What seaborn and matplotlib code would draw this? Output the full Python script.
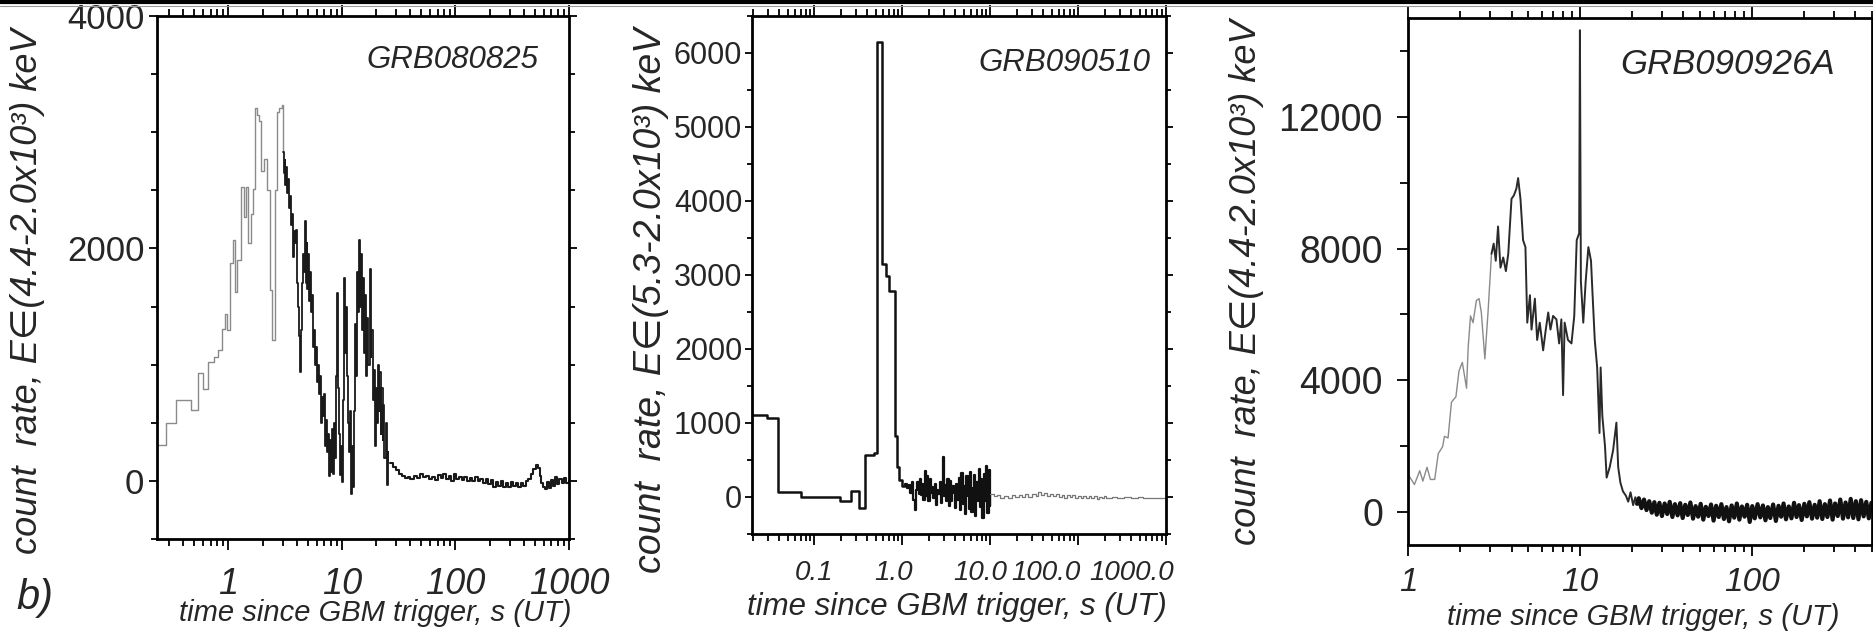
import numpy as np
import pandas as pd
import seaborn as sns
import matplotlib.pyplot as plt
from matplotlib.lines import Line2D
from matplotlib.transforms import ScaledTranslation
from matplotlib.ticker import LogLocator, NullFormatter, MultipleLocator

# ---- GRB080825 : (bin start, s ; count rate) step data
grb1_rise = [(0.235, 310), (0.28, 500), (0.345, 700), (0.47, 610), (0.54, 930), (0.60, 790),
             (0.665, 1025), (0.74, 1070), (0.815, 1130), (0.87, 1310), (0.93, 1440), (0.98, 1300),
             (1.035, 1875), (1.105, 2070), (1.145, 1625), (1.19, 1900), (1.29, 2525), (1.36, 2270),
             (1.435, 2525), (1.50, 2045), (1.58, 2300), (1.64, 2510), (1.72, 3210), (1.78, 3150),
             (1.85, 3100), (1.93, 2670), (2.04, 2770), (2.19, 2500), (2.31, 1645), (2.42, 1215),
             (2.55, 2500), (2.68, 3170), (2.80, 3210), (2.97, 3230)]
grb1_burst = [(3.00, 2830), (3.06, 2650), (3.12, 2760), (3.18, 2550), (3.24, 2700), (3.30, 2480),
              (3.36, 2600), (3.43, 2350), (3.50, 2450), (3.57, 2200), (3.64, 2300), (3.72, 1925),
              (3.80, 2150), (3.88, 2050), (3.96, 2160), (4.04, 1700), (4.12, 1500), (4.20, 1250),
              (4.28, 935), (4.36, 1300), (4.45, 1700), (4.53, 1950), (4.62, 1800), (4.70, 2240),
              (4.79, 1700), (4.88, 2050), (4.97, 1650), (5.06, 1950), (5.16, 1550), (5.26, 1800),
              (5.36, 1450), (5.47, 1600), (5.58, 1150), (5.69, 1300), (5.81, 1000), (5.93, 1150),
              (6.05, 850), (6.17, 1000), (6.30, 750), (6.43, 900), (6.56, 500), (6.69, 720),
              (6.83, 560), (6.97, 750), (7.11, 300), (7.26, 520), (7.40, 250), (7.55, 400),
              (7.70, 45), (7.86, 350), (8.02, 80), (8.18, 450), (8.35, 60), (8.52, 500),
              (8.70, 200), (8.88, 900), (9.06, 1615), (9.25, 800), (9.44, 400), (9.63, 50),
              (9.83, 300), (10.0, -10), (10.2, 700), (10.4, 1750), (10.6, 1100), (10.8, 1500),
              (11.0, 900), (11.3, 500), (11.5, 250), (11.8, 600), (12.0, -110), (12.3, 300),
              (12.5, -50), (12.8, 600), (13.0, 1350), (13.3, 900), (13.6, 1800), (13.9, 1450),
              (14.2, 2070), (14.5, 1500), (14.8, 1950), (15.1, 1300), (15.4, 1750), (15.7, 1100),
              (16.0, 1600), (16.4, 900), (16.7, 1400), (17.1, 1000), (17.5, 1820), (17.9, 1070),
              (18.2, 1300), (18.6, 700), (19.0, 950), (19.4, 300), (19.8, 800), (20.2, 500),
              (20.6, 1000), (21.0, 600), (21.4, 935), (21.9, 400), (22.3, 800), (22.8, 350),
              (23.2, 650), (23.7, 200), (24.2, 500), (24.7, -35), (25.2, 250), (25.7, 173)]
grb1_tail = [(26.5, 150), (28, 120), (30, 90), (32, 60), (34, 40), (36, 25), (38, 35), (40, 20),
             (43, 40), (46, 25), (49, 55), (52, 30), (55, 45), (58, 20), (62, 35), (66, 10),
             (70, 50), (74, 25), (78, 60), (82, 15), (87, 40), (92, 0), (97, 60), (102, 20),
             (108, 35), (114, 5), (120, 30), (127, 0), (134, 25), (141, -5), (149, 30), (157, 0),
             (166, 20), (175, -15), (185, 15), (195, -30), (205, 10), (215, -50), (226, -10),
             (238, -45), (250, -5), (263, -50), (277, -15), (291, -55), (306, -10), (322, -45),
             (339, -15), (357, -55), (376, -20), (396, -40), (417, -5), (439, 20), (462, 60),
             (486, 100), (510, 140), (530, 110), (550, 40), (570, -20), (590, -50), (610, -70),
             (635, -10), (660, -60), (690, 10), (720, -40), (750, 30), (785, -30), (820, 20),
             (860, -20), (900, 25), (950, -15), (1000, 0)]

# ---- GRB090510
grb2_burst = [(0.0195, 1110), (0.029, 1070), (0.0387, 65), (0.0705, 5), (0.193, -60), (0.263, 75),
              (0.325, -150), (0.38, 570), (0.48, 600), (0.51, 6150), (0.59, 3150), (0.66, 2980),
              (0.70, 2780), (0.82, 830), (0.86, 400), (0.92, 230), (0.98, 150)]
grb2_noise = [(1.08, 180), (1.13, 120), (1.18, 160), (1.23, 60), (1.28, 200), (1.33, -40),
              (1.38, -170), (1.43, 90), (1.48, 200), (1.53, 40), (1.58, 250), (1.63, 30),
              (1.68, 180), (1.74, -40), (1.80, 350), (1.86, 20), (1.92, 280), (1.98, -60),
              (2.05, 240), (2.12, 60), (2.19, 130), (2.26, -20), (2.34, 170), (2.42, -110),
              (2.50, 90), (2.58, 40), (2.67, 200), (2.76, -80), (2.85, 130), (2.90, 540),
              (2.95, 20), (3.05, 160), (3.15, -60), (3.26, 240), (3.37, -120), (3.48, 210),
              (3.60, -60), (3.72, 150), (3.84, 60), (3.97, -150), (4.10, 180), (4.24, -40),
              (4.38, 260), (4.53, -180), (4.68, 320), (4.84, -90), (5.00, 150), (5.17, -230),
              (5.34, 280), (5.52, 20), (5.70, -160), (5.89, 340), (6.09, -200), (6.29, 120),
              (6.50, 300), (6.72, -250), (6.94, 200), (7.17, -50), (7.41, 380), (7.66, -140),
              (7.91, 250), (8.17, -280), (8.44, 310), (8.72, -60), (9.01, 420), (9.31, -220),
              (9.62, 360), (9.85, -120), (10.0, 40)]
grb2_tail = [(10.0, 40), (11, 10), (12, 30), (13, -10), (14.5, 20), (16, -15), (17.5, 25), (19, -5),
             (21, 30), (23, 0), (25, 35), (27, 5), (30, 40), (33, 20), (35, 70), (38, 30), (41, 55),
             (44, 15), (48, 45), (52, 10), (56, 40), (60, 0), (65, 30), (70, -10), (75, 25), (80, 5),
             (86, 30), (92, -15), (100, 20), (107, -10), (115, 15), (123, -20), (132, 10), (141, -15),
             (151, 15), (162, -25), (173, 5), (185, -20), (198, 10), (210, -10), (240, -5),
             (280, -10), (330, -5), (400, -12), (480, -5), (550, -10), (650, -8), (800, -10),
             (1000, -8)]

# ---- GRB090926A
grb3_rise = [(1.0, 1150), (1.09, 836), (1.17, 1254), (1.22, 940), (1.29, 1360), (1.35, 990),
             (1.43, 990), (1.50, 1777), (1.59, 1985), (1.63, 2300), (1.71, 2250), (1.79, 3340),
             (1.90, 3500), (1.98, 4285), (2.07, 4545), (2.19, 3760), (2.24, 5015), (2.31, 5955),
             (2.39, 5750), (2.50, 6425), (2.59, 6480), (2.67, 6060), (2.80, 4650), (2.92, 6060),
             (3.06, 7840)]
grb3_peak = [(3.06, 7840), (3.15, 8150), (3.24, 7630), (3.34, 8670), (3.45, 7420), (3.58, 7730),
             (3.71, 7315), (3.83, 7840), (4.0, 9510), (4.13, 9615), (4.27, 9820), (4.37, 10140),
             (4.51, 9510), (4.67, 8255), (4.82, 8045), (4.94, 5750), (5.12, 6585), (5.23, 5540),
             (5.47, 6480), (5.64, 5225), (5.84, 5750), (6.11, 4910), (6.33, 5540), (6.54, 6060),
             (6.74, 5540), (6.98, 5955), (7.30, 5850), (7.57, 5120), (7.80, 5850), (7.98, 3550),
             (8.15, 5750), (8.52, 5225), (8.93, 5120), (9.27, 5955), (9.58, 8255), (9.90, 8465),
             (10.0, 14630), (10.13, 7000), (10.46, 5750), (10.8, 7000), (11.2, 8045), (11.6, 7630),
             (11.8, 6790), (12.2, 5225), (12.6, 4390), (13.0, 2400), (13.2, 4390), (13.5, 2925),
             (14.0, 1985), (14.3, 1045), (14.9, 1360), (15.6, 1880), (16.3, 2715), (16.7, 1360),
             (17.2, 890), (17.8, 627), (18.5, 500), (19.1, 315), (19.7, 600), (20.4, 210),
             (21.0, 450), (21.5, 250)]
grb3_tail = [(21.5, 250), (22.0, 420), (22.8, 120), (23.6, 380), (24.4, 60), (25.3, 330), (26.2, -20),
             (27.1, 300), (28.0, -80), (29.0, 280), (30.0, -120), (31.1, 260), (32.2, -60), (33.3, 310),
             (34.5, -150), (35.7, 240), (37.0, -100), (38.3, 270), (39.6, -180), (41.0, 220),
             (42.4, -90), (43.9, 290), (45.5, -200), (47.1, 180), (48.7, -140), (50.4, 250),
             (52.2, -230), (54.0, 160), (55.9, -120), (57.9, 230), (59.9, -260), (62.0, 190),
             (64.2, -150), (66.5, 240), (68.8, -210), (71.2, 150), (73.7, -280), (76.3, 200),
             (79.0, -170), (81.8, 260), (84.6, -230), (87.6, 170), (90.7, -140), (93.9, 220),
             (97.2, -300), (100.6, 180), (104, -190), (108, 240), (112, -160), (116, 200),
             (120, -250), (124, 150), (128, -180), (133, 230), (138, -270), (143, 190), (148, -140),
             (153, 260), (158, -220), (164, 170), (170, -190), (176, 280), (182, -150), (188, 210),
             (195, -240), (202, 250), (209, -130), (216, 300), (224, -200), (232, 220), (240, -170),
             (248, 330), (257, -210), (266, 240), (275, -150), (285, 350), (295, -230), (305, 260),
             (316, -120), (327, 380), (339, -200), (351, 290), (363, -160), (376, 400), (389, -180),
             (403, 330), (417, -220), (432, 360), (447, -130), (463, 310), (479, -190), (496, 280)]

# ---- axes text / ticks
names = ["GRB080825", "GRB090510", "GRB090926A"]
ylabels = ["count  rate, E\u2208(4.4-2.0x10\u00b3) keV",
           "count  rate, E\u2208(5.3-2.0x10\u00b3) keV",
           "count  rate, E\u2208(4.4-2.0x10\u00b3) keV"]
xlabel = "time since GBM trigger, s (UT)"
x1_ticks, x1_labels = [1, 10, 100, 1000], ["1", "10", "100", "1000"]
x2_ticks, x2_labels = [0.1, 1, 10, 100, 1000], ["0.1", "1.0", "10.0", "100.0", "1000.0"]
x3_ticks, x3_labels = [1, 10, 100], ["1", "10", "100"]
y1_ticks = [0, 2000, 4000]
y2_ticks = [0, 1000, 2000, 3000, 4000, 5000, 6000]
y3_ticks = [0, 4000, 8000, 12000]

sns.set_theme(style="ticks")
plt.rcParams['font.family'] = ['Liberation Sans', 'DejaVu Sans']

W, H = 1874, 635
fig = plt.figure(figsize=(W / 100, H / 100), dpi=100)
fig.patch.set_facecolor("white")


def box(l, r, t, b):
    return [l / W, 1 - b / H, (r - l) / W, (b - t) / H]


def px(x, y):
    return x / W, 1 - y / H


def draw(ax, pairs, color, lw, steps=True):
    d = pd.DataFrame(pairs, columns=["t", "rate"])
    sns.lineplot(data=d, x="t", y="rate", ax=ax, color=color, lw=lw, estimator=None,
                 sort=False, drawstyle="steps-post" if steps else "default")


def style(ax, xt, xl, xlim, yt, ylim, yminor, xsize, ysize, xpad, ypad, ylen):
    ax.set_xscale("log")
    ax.set_xticks(xt, labels=xl, fontsize=xsize, fontstyle="italic")
    ax.xaxis.set_minor_locator(LogLocator(base=10, subs=np.arange(2, 10), numticks=30))
    ax.xaxis.set_minor_formatter(NullFormatter())
    ax.set_yticks(yt, labels=[str(v) for v in yt], fontsize=ysize)
    ax.yaxis.set_minor_locator(MultipleLocator(yminor))
    ax.set_xlim(*xlim)
    ax.set_ylim(*ylim)
    ax.set_xlabel("")
    ax.set_ylabel("")
    ax.tick_params(which="both", direction="out", top=True, right=True, color="black", width=1.3)
    ax.tick_params(axis="x", which="major", length=8, pad=xpad)
    ax.tick_params(axis="x", which="minor", length=5)
    ax.tick_params(axis="y", which="major", length=ylen, pad=ypad)
    ax.tick_params(axis="y", which="minor", length=ylen * 0.7)
    for s in ax.spines.values():
        s.set_linewidth(2)
        s.set_color("black")
    ax.grid(False)


ax1 = fig.add_axes(box(157, 569, 16, 539))
draw(ax1, grb1_rise + grb1_burst[:1], "#8a8a8a", 1.0)
draw(ax1, grb1_burst, "#1a1a1a", 1.3)
draw(ax1, grb1_tail, "#1a1a1a", 1.5)
style(ax1, x1_ticks, x1_labels, (0.235, 1000), y1_ticks, (-500, 4000), 500, 26, 25, 12, 3, 6)

ax2 = fig.add_axes(box(752, 1166, 16, 534))
draw(ax2, grb2_burst + grb2_noise[:1], "#111111", 1.8)
draw(ax2, grb2_noise, "#111111", 1.6)
draw(ax2, grb2_tail, "#777777", 0.9)
style(ax2, x2_ticks, x2_labels, (0.0195, 1000), y2_ticks, (-500, 6500), 500, 20, 22, 11, 2, 5)
# the crowded labels of this panel sit left of their ticks
for lab, dx in zip(ax2.get_xticklabels(), [0, -9, -10, -32, -34]):
    lab.set_transform(lab.get_transform() + ScaledTranslation(dx / 100, 0, fig.dpi_scale_trans))

ax3 = fig.add_axes(box(1408, 1872, 18, 545))
draw(ax3, grb3_rise, "#8a8a8a", 1.0, steps=False)
draw(ax3, grb3_peak, "#2a2a2a", 1.4, steps=False)
draw(ax3, grb3_tail, "#111111", 3.0, steps=False)
style(ax3, x3_ticks, x3_labels, (1, 500), y3_ticks, (-1000, 15000), 2000, 24, 27, 8, 10, 8)

# panel texts
for (xr, yc, size), name in zip([(538, 60, 22.5), (1150, 63, 22.5), (1835, 65, 25)], names):
    fig.text(*px(xr, yc), name, ha="right", va="center", fontsize=size, fontstyle="italic")
for (xc, yc, size), lab in zip([(28, 291, 26), (651, 300, 27), (1246, 282, 26)], ylabels):
    fig.text(*px(xc, yc), lab, rotation=90, ha="center", va="center", fontsize=size,
             fontstyle="italic")
for xc, yc, size in [(375, 613, 21), (957, 607, 22.5), (1643, 617, 21)]:
    fig.text(*px(xc, yc), xlabel, ha="center", va="center", fontsize=size, fontstyle="italic")
fig.text(*px(35, 598), "b)", ha="center", va="center", fontsize=30, fontstyle="italic")

# heavy rule along the top edge of the page
fig.add_artist(Line2D([0, 1], [1 - 2 / H] * 2, transform=fig.transFigure, color="black", lw=3))
fig.add_artist(Line2D([0, 1], [1 - 6 / H] * 2, transform=fig.transFigure, color="#999999", lw=0.8))

fig.savefig("out.png", dpi=100, facecolor="white")
